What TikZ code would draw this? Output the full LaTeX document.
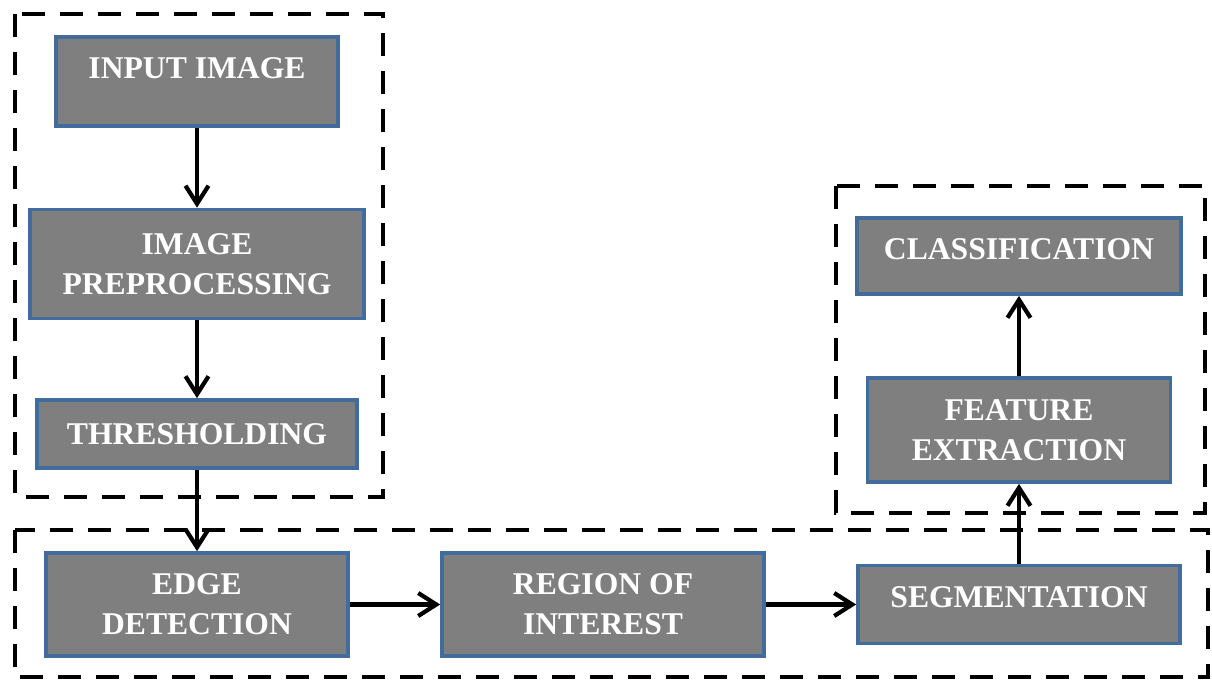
\documentclass[tikz,border=0pt]{standalone}
\usepackage{fontspec}
\setmainfont{Liberation Serif}
\usetikzlibrary{arrows.meta}
\definecolor{boxgray}{RGB}{127,127,127}
\definecolor{boxblue}{RGB}{65,108,156}
\begin{document}
\begin{tikzpicture}
  [blk/.style={rectangle,draw=boxblue,line width=2.1pt,fill=boxgray,text=white,
     font=\fontsize{18}{22.8}\selectfont\bfseries,align=center,inner sep=0pt},
   lift/.style={text depth=#1},
   grp/.style={draw,line width=2.3pt,dash pattern=on 0.46cm off 0.3cm},
   arr/.style={-{Straight Barb[length=0.36cm,width=0.46cm]},line width=2.4pt}]
  \useasboundingbox (0,0) rectangle (24.24,13.64);
  \draw[grp] (0.30,13.36) rectangle (7.66,3.70);
  \draw[grp] (0.30,3.04) rectangle (24.16,0.10);
  \draw[grp] (16.72,9.92) rectangle (24.10,3.38);
  \node[blk,minimum width=5.64cm,minimum height=1.78cm,lift=0.55cm] (inp) at (3.94,12.01) {INPUT IMAGE};
  \node[blk,minimum width=6.68cm,minimum height=2.18cm] (pre) at (3.94,8.36) {IMAGE\\PREPROCESSING};
  \node[blk,minimum width=6.40cm,minimum height=1.36cm] (thr) at (3.94,4.96) {THRESHOLDING};
  \node[blk,minimum width=6.04cm,minimum height=2.06cm] (edge) at (3.94,1.55) {EDGE\\DETECTION};
  \node[blk,minimum width=6.44cm,minimum height=2.06cm] (roi) at (12.06,1.55) {REGION OF\\INTEREST};
  \node[blk,minimum width=6.44cm,minimum height=1.56cm,lift=0.3cm] (seg) at (20.38,1.55) {SEGMENTATION};
  \node[blk,minimum width=6.06cm,minimum height=2.08cm] (feat) at (20.38,5.04) {FEATURE\\EXTRACTION};
  \node[blk,minimum width=6.48cm,minimum height=1.52cm,lift=0.28cm] (cls) at (20.38,8.52) {CLASSIFICATION};
  \foreach \from/\to in {inp/pre,pre/thr,thr/edge,edge/roi,roi/seg,seg/feat,feat/cls}
    \draw[arr] (\from) -- (\to);
\end{tikzpicture}
\end{document}
